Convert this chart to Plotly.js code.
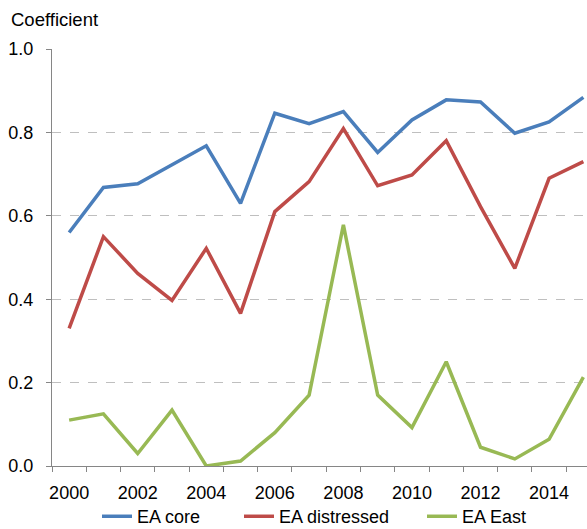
<!DOCTYPE html>
<html>
<head>
<meta charset="utf-8">
<script src="https://cdn.plot.ly/plotly-3.0.1.min.js"></script>
<style>html,body{margin:0;padding:0;background:#fff;}#chart{width:587px;height:529px;}</style>
</head>
<body>
<div id="chart"></div>
<script>
const years = [2000,2001,2002,2003,2004,2005,2006,2007,2008,2009,2010,2011,2012,2013,2014,2015];
const eaCore = [0.56,0.668,0.677,0.722,0.768,0.63,0.846,0.821,0.85,0.752,0.83,0.878,0.873,0.798,0.825,0.884];
const eaDistressed = [0.33,0.55,0.462,0.397,0.522,0.366,0.61,0.682,0.809,0.672,0.698,0.78,0.622,0.474,0.69,0.73];
const eaEast = [0.11,0.125,0.03,0.134,0.0,0.012,0.08,0.17,0.578,0.17,0.092,0.25,0.045,0.017,0.064,0.213];
const labelYears = [2000,2002,2004,2006,2008,2010,2012,2014];
const yTicks = [0,0.2,0.4,0.6,0.8,1.0];

const font = 'Liberation Sans, Arial, sans-serif';
const axisGray = '#868686';
const tickBounds = years.map(y => y - 0.5).concat([years[years.length-1] + 0.5]);
const xRange = [years[0] - 0.5, years[years.length-1] + 0.106];

const traces = [
  {x: years, y: eaCore, name: 'EA core', legend: 'legend', type: 'scatter', mode: 'lines', line: {color: '#4A7EBB', width: 3.5}},
  {x: years, y: eaDistressed, name: 'EA distressed', legend: 'legend2', type: 'scatter', mode: 'lines', line: {color: '#BE4B48', width: 3.5}},
  {x: years, y: eaEast, name: 'EA East', legend: 'legend3', type: 'scatter', mode: 'lines', line: {color: '#98B954', width: 3.5}},
  {x: years, y: eaCore, xaxis: 'x2', type: 'scatter', mode: 'lines', line: {width: 0}, opacity: 0, showlegend: false, hoverinfo: 'skip'}
];

const legendBase = {orientation: 'h', xref: 'container', yref: 'container', xanchor: 'left', y: 0.0235, yanchor: 'middle', font: {family: font, size: 18, color: '#000'}, bgcolor: 'rgba(0,0,0,0)'};

const layout = {
  width: 587, height: 529,
  margin: {l: 52, r: 0, t: 49, b: 63},
  paper_bgcolor: '#fff', plot_bgcolor: '#fff',
  font: {family: font, size: 18, color: '#000'},
  showlegend: true,
  legend: Object.assign({}, legendBase, {x: 97/587}),
  legend2: Object.assign({}, legendBase, {x: 239/587}),
  legend3: Object.assign({}, legendBase, {x: 422/587}),
  xaxis: {
    range: xRange, tickmode: 'array', tickvals: labelYears, ticktext: labelYears.map(String),
    ticks: '', showgrid: false, zeroline: false, showline: true, linecolor: axisGray, linewidth: 1,
    tickfont: {family: font, size: 18, color: '#000'}, ticklabelstandoff: 10, fixedrange: true
  },
  xaxis2: {
    overlaying: 'x', anchor: 'y', side: 'bottom', range: xRange, tickmode: 'array', tickvals: tickBounds,
    ticks: 'outside', ticklen: 5, tickcolor: axisGray, tickwidth: 1, showticklabels: false,
    showgrid: false, zeroline: false, showline: false, fixedrange: true
  },
  yaxis: {
    range: [0, 1], tickmode: 'array', tickvals: yTicks, tickformat: '.1f',
    showgrid: true, gridcolor: '#BFBFBF', griddash: 'dash', gridwidth: 1,
    zeroline: false, showline: true, linecolor: axisGray, linewidth: 1,
    ticks: 'outside', ticklen: 5, tickcolor: axisGray,
    tickfont: {family: font, size: 18, color: '#000'}, ticklabelstandoff: 9, fixedrange: true
  },
  annotations: [
    {text: 'Coefficient', xref: 'paper', yref: 'paper', x: -0.081, y: 1.07, xanchor: 'left', yanchor: 'middle', showarrow: false, font: {family: font, size: 18.5, color: '#000'}}
  ]
};

Plotly.newPlot('chart', traces, layout, {staticPlot: true, displayModeBar: false});
</script>
</body>
</html>
